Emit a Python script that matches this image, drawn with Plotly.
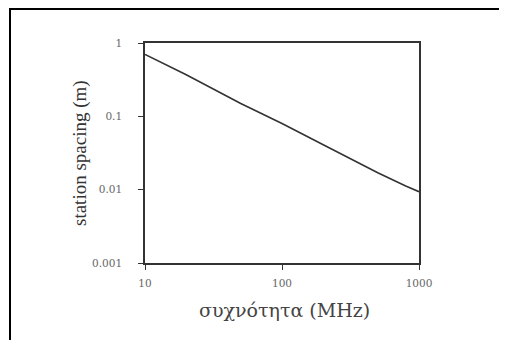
import plotly.graph_objects as go

freq_mhz = [10, 20, 50, 100, 200, 500, 800, 1000]
spacing_m = [0.70, 0.37, 0.15, 0.08, 0.041, 0.017, 0.0112, 0.0094]

x_ticks = [10, 100, 1000]
x_tick_labels = ["10", "100", "1000"]
y_ticks = [0.001, 0.01, 0.1, 1]
y_tick_labels = ["0.001", "0.01", "0.1", "1"]

x_title = "συχνότητα (MHz)"
y_title = "station spacing (m)"

fig = go.Figure()
fig.add_trace(go.Scatter(x=freq_mhz, y=spacing_m, mode="lines",
                         line=dict(color="#333333", width=1.6), showlegend=False))

# page body has an 8px margin; figure laid out in div coordinates
OFF = 8
W, H = 507 - OFF, 340 - OFF
L, T = 145 - OFF, 43 - OFF
R = W - (419 - OFF)
B = H - (263 - OFF)
pw, ph = W - L - R, H - T - B

def px_x(p):
    return (p - OFF - L) / pw

def px_y(p):
    return (H - B - (p - OFF)) / ph

fig.add_shape(type="rect", xref="paper", yref="paper",
              x0=px_x(10), x1=px_x(506), y0=px_y(360), y1=px_y(9),
              line=dict(color="black", width=2), layer="above")

serif = "Liberation Serif, Times New Roman, serif"
wide_serif = "DejaVu Serif, serif"

fig.add_annotation(text=y_title, xref="paper", yref="paper",
                   x=px_x(80), y=px_y(153), xanchor="center", yanchor="middle",
                   textangle=-90, showarrow=False,
                   font=dict(family=serif, size=19, color="#333333"))
fig.add_annotation(text=x_title, xref="paper", yref="paper",
                   x=px_x(284), y=px_y(310), xanchor="center", yanchor="middle",
                   showarrow=False,
                   font=dict(family=wide_serif, size=19, color="#444444"))

fig.update_layout(
    width=W, height=H,
    margin=dict(l=L, r=R, t=T, b=B),
    paper_bgcolor="white", plot_bgcolor="white",
    font=dict(family=wide_serif, color="#555555"),
    xaxis=dict(type="log", range=[1, 3], tickvals=x_ticks, ticktext=x_tick_labels,
               showgrid=False, zeroline=False, showline=True, linecolor="#333333",
               linewidth=1.5, mirror=True, ticks="outside", ticklen=5,
               tickcolor="#333333", tickfont=dict(size=10.5, color="#666666"),
               ticklabelstandoff=5),
    yaxis=dict(type="log", range=[-3, 0], tickvals=y_ticks, ticktext=y_tick_labels,
               showgrid=False, zeroline=False, showline=True, linecolor="#333333",
               linewidth=1.5, mirror=True, ticks="outside", ticklen=5,
               tickcolor="#333333", tickfont=dict(size=10.5, color="#666666"),
               ticklabelstandoff=14),
)

fig.write_html("out.html")
